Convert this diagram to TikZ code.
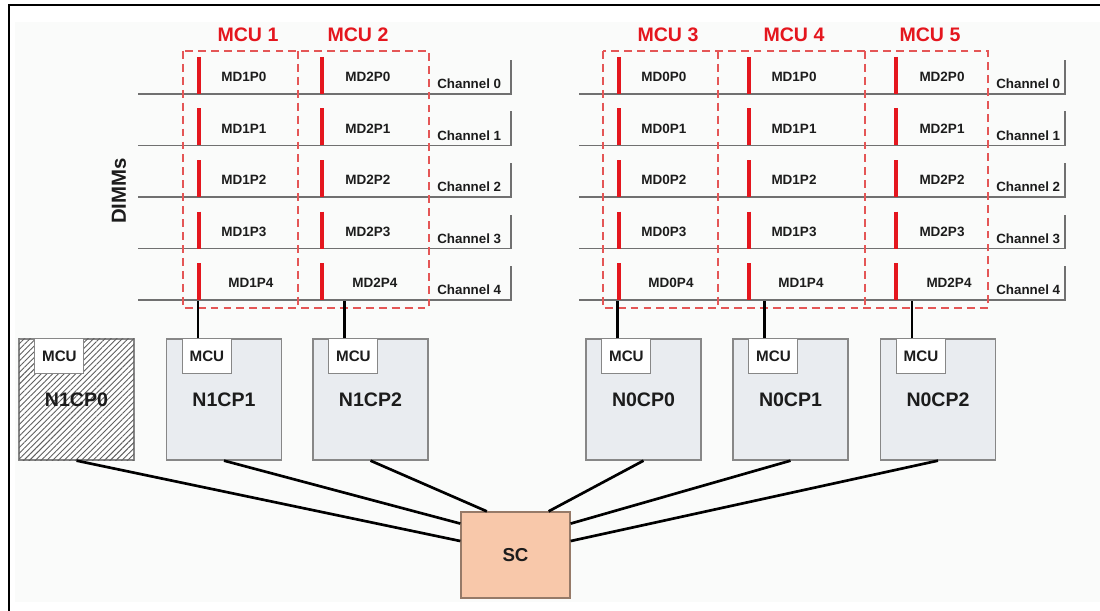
\documentclass[tikz,border=0pt]{standalone}
\usepackage{fontspec}
\setmainfont{Liberation Sans}
\usetikzlibrary{positioning}
\usetikzlibrary{calc}
\usetikzlibrary{patterns.meta}

\definecolor{dimmred}{RGB}{228,22,30}
\definecolor{mcured}{RGB}{228,86,86}
\definecolor{chipfill}{RGB}{233,236,240}
\definecolor{chipline}{RGB}{135,135,135}
\definecolor{scfill}{RGB}{248,200,170}
\definecolor{scline}{RGB}{150,122,104}
\definecolor{busgray}{RGB}{112,112,112}
\definecolor{paper}{RGB}{250,251,250}
\definecolor{ink}{RGB}{28,28,28}

\begin{document}
\begin{tikzpicture}[x=0.025cm, y=-0.025cm,
    chip/.style={draw=chipline, line width=0.9pt, fill=chipfill, minimum width=2.875cm, minimum height=3.025cm, inner sep=0pt, text=ink, font=\fontsize{13.9}{16}\selectfont\bfseries},
    mcusmall/.style={draw=chipline, line width=0.8pt, fill=white, minimum width=1.225cm, minimum height=0.875cm, inner sep=0pt, text=ink, font=\fontsize{10.8}{12}\selectfont\bfseries},
    scbox/.style={draw=scline, line width=0.9pt, fill=scfill, minimum width=2.725cm, minimum height=2.15cm, inner sep=0pt, text=ink, font=\fontsize{13.3}{15}\selectfont\bfseries},
    dimm/.style={text=ink, inner sep=0pt, font=\fontsize{9.6}{11}\selectfont\bfseries},
    chlabel/.style={text=ink, inner sep=0pt, anchor=west, font=\fontsize{9.5}{11}\selectfont\bfseries},
    mcutitle/.style={text=dimmred, inner sep=0pt, font=\fontsize{13.9}{16}\selectfont\bfseries},
    busline/.style={draw=busgray, line width=1pt},
    dimmbar/.style={draw=dimmred, line width=2.2pt},
    mcubox/.style={draw=mcured, line width=1.1pt, dash pattern=on 5.6pt off 3.6pt},
    hatched/.style={fill=white, postaction={pattern={Lines[angle=45, distance=2.9pt, line width=0.65pt]}, pattern color=gray!75!black}},
    link/.style={draw=black, line width=1.9pt}]

  \useasboundingbox (0,0) rectangle (1100,611);
  \fill[paper] (15,22) rectangle (1100,602);
  \draw[line width=1pt] (9,611) -- (9,5) -- (1100,5);

  % channels of the two dimm groups
  \foreach \i in {0,...,4}
    {
    \pgfmathsetmacro\yy{94+51.5*\i}
    \pgfmathsetmacro\sh{\i==4 ? 7 : 0}
    \draw[busline] (138,\yy) -- (511,\yy) -- (511,\yy-34);
    \draw[busline] (579,\yy) -- (1065,\yy) -- (1065,\yy-34);
    \node[chlabel] (chA\i) at (437,\yy-10) {Channel \i};
    \node[chlabel] (chB\i) at (996,\yy-10) {Channel \i};
    \foreach \bx/\lx/\dn in {199/244/1, 322/368/2}
      {
      \draw[dimmbar] (\bx,\yy-37) -- (\bx,\yy);
      \node[dimm] (dimmA\dn\i) at (\lx+\sh,\yy-17) {MD\dn P\i};
      }
    \foreach \bx/\lx/\dn in {619/664/0, 749/794/1, 896/942/2}
      {
      \draw[dimmbar] (\bx,\yy-37) -- (\bx,\yy);
      \node[dimm] (dimmB\dn\i) at (\lx+\sh,\yy-17) {MD\dn P\i};
      }
    }

  % mcu groups
  \draw[mcubox] (183,51) rectangle (429,308);
  \draw[mcubox] (298,51) -- (298,308);
  \draw[mcubox] (603,51) rectangle (988,308);
  \draw[mcubox] (718,51) -- (718,308);
  \draw[mcubox] (865,51) -- (865,308);
  \foreach \tx/\k in {248/1, 358/2, 668/3, 794/4, 930/5}
    {\node[mcutitle] (title\k) at (\tx,35) {MCU \k};}

  \node[rotate=90, text=ink, inner sep=0pt, font=\fontsize{14.5}{16}\selectfont\bfseries] (dimms) at (119,191) {DIMMs};

  % processor chips
  \node[chip, hatched] (n1cp0) at (76.5,399.5) {N1CP0};
  \foreach \nm/\cx/\txt in {n1cp1/224/N1CP1, n1cp2/370.5/N1CP2, n0cp0/643.5/N0CP0, n0cp1/790.5/N0CP1, n0cp2/938/N0CP2}
    {\node[chip] (\nm) at (\cx,399.5) {\txt};}
  \foreach \nm in {n1cp0,n1cp1,n1cp2,n0cp0,n0cp1,n0cp2}
    {\node[mcusmall, anchor=north west] (m\nm) at ($(\nm.north west)+(16,0)$) {MCU};}
  \foreach \nm in {n1cp1,n1cp2,n0cp0,n0cp1,n0cp2}
    {\draw[link] ($(m\nm.north west)+(16,0)$) -- ++(0,-37);}

  \node[scbox] (sc) at (515.5,555) {SC};

  \draw[link] (n1cp0.south) -- ($(sc.north west)!0.34!(sc.south west)$);
  \draw[link] (n1cp1.south) -- ($(sc.north west)!0.14!(sc.south west)$);
  \draw[link] (n1cp2.south) -- ($(sc.north west)!0.24!(sc.north east)$);
  \draw[link] (n0cp0.south) -- ($(sc.north west)!0.80!(sc.north east)$);
  \draw[link] (n0cp1.south) -- ($(sc.north east)!0.14!(sc.south east)$);
  \draw[link] (n0cp2.south) -- ($(sc.north east)!0.34!(sc.south east)$);
\end{tikzpicture}
\end{document}
